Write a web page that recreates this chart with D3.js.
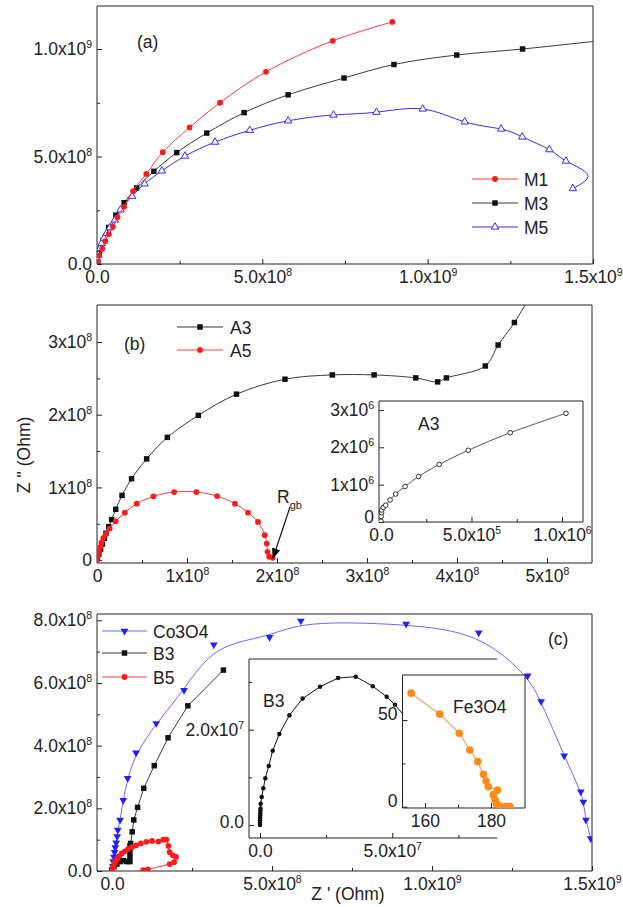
<!DOCTYPE html>
<html>
<head>
<meta charset="utf-8">
<script src="https://cdnjs.cloudflare.com/ajax/libs/d3/7.8.5/d3.min.js"></script>
<style>
  body { margin: 0; background: #fff; }
  text { font-family: "Liberation Sans", Arial, sans-serif; fill: #222; }
</style>
</head>
<body>
<svg id="chart" width="623" height="907"></svg>
<script>
const FS = 17.5;

// ---------- panel (a): values in units of 1e9 Ohm ----------
const aUnit = 1e9;
const aTicksX = [0, 0.5, 1, 1.5], aMinorX = [0.25, 0.75, 1.25];
const aTicksY = [0, 0.5, 1], aMinorY = [0.25, 0.75];
const m1 = [[0.002,0.01],[0.007,0.039],[0.016,0.071],[0.025,0.106],[0.036,0.139],[0.048,0.173],[0.062,0.217],
  [0.082,0.266],[0.109,0.339],[0.149,0.419],[0.199,0.52],[0.28,0.635],[0.372,0.75],[0.511,0.894],[0.713,1.038],[0.893,1.126]];
const m3 = [[0.002,0.01],[0.008,0.06],[0.018,0.11],[0.035,0.17],[0.057,0.227],[0.082,0.285],[0.12,0.354],[0.172,0.431],
  [0.241,0.518],[0.332,0.609],[0.445,0.704],[0.578,0.787],[0.747,0.865],[0.898,0.928],[1.088,0.972],[1.287,1.0],[1.56,1.045]];
const m5 = [[0.001,0.02],[0.004,0.042],[0.009,0.073],[0.014,0.096],[0.021,0.12],[0.029,0.143],[0.039,0.169],[0.054,0.205],
  [0.071,0.252],[0.106,0.315],[0.144,0.373],[0.196,0.433],[0.266,0.502],[0.357,0.567],[0.462,0.622],[0.578,0.666],
  [0.715,0.693],[0.845,0.706],[0.985,0.721],[1.112,0.661],[1.222,0.628],[1.286,0.591],[1.368,0.532],[1.418,0.479],[1.439,0.351]];
// where the M5 spline swings out to the right before its last point (line only, no marker)
const m5Turn = [1.484, 0.415];

// ---------- panel (b): units of 1e8 Ohm ----------
const bUnit = 1e8;
const bTicksX = [0, 1, 2, 3, 4, 5], bMinorX = [0.5, 1.5, 2.5, 3.5, 4.5];
const bTicksY = [0, 1, 2, 3], bMinorY = [0.5, 1.5, 2.5];
const a3 = [[0.005,0.02],[0.02,0.08],[0.04,0.15],[0.06,0.22],[0.08,0.3],[0.1,0.37],[0.13,0.46],[0.163,0.557],[0.208,0.699],
  [0.278,0.89],[0.384,1.119],[0.552,1.393],[0.782,1.689],[1.126,1.991],[1.55,2.283],[2.089,2.489],[2.615,2.548],
  [3.079,2.548],[3.542,2.507],[3.785,2.452],[3.882,2.507],[4.315,2.671],[4.457,2.959],[4.638,3.269],[4.85,3.71]];
const a5 = [[0,0],[0.01,0.06],[0.02,0.12],[0.035,0.18],[0.05,0.24],[0.07,0.3],[0.1,0.36],[0.141,0.434],[0.208,0.534],
  [0.309,0.653],[0.442,0.776],[0.627,0.877],[0.857,0.936],[1.104,0.936],[1.334,0.881],[1.533,0.776],[1.678,0.653],
  [1.789,0.525],[1.864,0.342],[1.886,0.228],[1.895,0.114],[1.913,0.046],[1.952,0.032]];

// inset A3: units of 1e6 Ohm
const iUnit = 1e6;
const iTicksX = [0, 0.5, 1], iMinorX = [0.25, 0.75];
const iTicksY = [0, 1, 2, 3], iMinorY = [];
const a3inset = [[0,0.02],[0.001,0.15],[0.003,0.25],[0.004,0.32],[0.013,0.39],[0.026,0.45],[0.05,0.59],[0.081,0.75],
  [0.133,0.95],[0.208,1.22],[0.322,1.54],[0.482,1.92],[0.714,2.39],[1.022,2.91]];

// ---------- panel (c): x in 1e9, y in 1e8 Ohm ----------
const cTicksX = [0, 0.5, 1, 1.5], cMinorX = [0.25, 0.75, 1.25];
const cTicksY = [0, 2, 4, 6, 8], cMinorY = [1, 3, 5, 7];
const co3o4 = [[0.001,0.03],[0.003,0.15],[0.004,0.3],[0.006,0.45],[0.008,0.6],[0.01,0.75],[0.013,0.9],[0.016,1.1],
  [0.018,1.31],[0.025,1.63],[0.035,2.26],[0.049,2.96],[0.075,3.77],[0.138,4.71],[0.225,5.77],[0.318,7.22],[0.492,7.46],
  [0.59,7.98],[0.919,7.88],[1.146,7.6],[1.299,6.23],[1.341,5.41],[1.413,3.68],[1.465,2.53],[1.473,2.2],[1.481,1.63],[1.496,1.04]];
const b3 = [[0,0.05],[0.006,0.14],[0.015,0.22],[0.025,0.3],[0.035,0.33],[0.046,0.3],[0.056,0.3],[0.056,0.46],[0.056,0.62],
  [0.056,0.8],[0.058,0.88],[0.063,1.25],[0.068,1.63],[0.08,2.03],[0.099,2.64],[0.132,3.36],[0.175,4.25],[0.237,5.27],[0.348,6.41]];
const b5 = [[0,0],[0.002,0.08],[0.005,0.16],[0.008,0.24],[0.012,0.32],[0.017,0.4],[0.023,0.48],[0.03,0.56],[0.04,0.63],
  [0.05,0.7],[0.062,0.76],[0.075,0.82],[0.09,0.88],[0.107,0.93],[0.125,0.96],[0.145,0.94],[0.16,1.0],[0.17,1.0],
  [0.176,0.8],[0.18,0.6],[0.19,0.5],[0.2,0.45],[0.194,0.28],[0.18,0.22],[0.112,0.05],[0.097,0.03]];

// inset B3: units of 1e7 Ohm
const jUnit = 1e7;
const jTicksX = [0, 5], jMinorX = [2.5, 7.5];
const jTicksY = [0, 2], jMinorY = [1, 3];
const b3inset = [[0,0],[0,0.05],[0,0.1],[0.005,0.15],[0.01,0.2],[0.01,0.25],[0.015,0.3],[0.02,0.35],[0.025,0.45],
  [0.064,0.59],[0.126,0.77],[0.2,0.98],[0.33,1.24],[0.48,1.56],[0.73,1.91],[1.11,2.3],[1.61,2.65],[2.27,2.9],
  [2.95,3.08],[3.62,3.11],[4.26,2.91],[4.79,2.69],[5.1,2.52],[5.6,2.2]];

// inset Fe3O4: plain Ohm
const kTicksX = [160, 180], kMinorX = [170];
const kTicksY = [0, 50], kMinorY = [25];
const fe3o4 = [[155.8,65.5],[164.5,53.4],[170.4,42.4],[173.6,32.7],[176.0,26.0],[177.7,18.7],[178.5,14.8],[179.2,11.5],
  [182.0,9.6],[180.7,6.8],[181.2,3.9],[181.7,1.6],[182.7,0.4],[184.5,0],[185.8,0]];

const svg = d3.select("#chart");
const defs = svg.append("defs");
defs.append("marker").attr("id", "arrow").attr("viewBox", "0 0 10 10").attr("refX", 9).attr("refY", 5)
  .attr("markerWidth", 9).attr("markerHeight", 9).attr("orient", "auto-start-reverse")
  .append("path").attr("d", "M0,1L10,5L0,9z").attr("fill", "#111");

function fmt(v, dig) {
  if (dig === null) return [String(v), ""];
  if (v === 0) return [dig ? "0.0" : "0", ""];
  const e = Math.floor(Math.log10(Math.abs(v)) + 1e-9);
  return [(v / Math.pow(10, e)).toFixed(dig) + "x10", String(e)];
}

function labelTicks(g, dig, lift, zeroLift) {
  g.attr("font-size", FS).attr("font-family", null).style("color", "#222");
  g.select(".domain").remove();
  g.selectAll(".tick text").each(function(d) {
    const t = d3.select(this).text(null);
    const [m, e] = fmt(d, dig);
    t.append("tspan").text(m);
    if (e) t.append("tspan").attr("dy", -7).attr("font-size", 10.5).text(e);
    const up = (lift || 0) + (d === 0 ? (zeroLift || 0) : 0);
    if (up) t.attr("y", -up);
  });
}

let clipId = 0;
function frame(o) {
  const g = svg.append("g");
  const [xl, xr] = o.x.range(), [yb, yt] = o.y.range();
  if (o.fill) g.append("rect").attr("x", xl).attr("y", yt).attr("width", xr - xl).attr("height", yb - yt).attr("fill", "#fff");
  const sc = v => v * o.ux, scy = v => v * o.uy;
  g.append("g").attr("transform", `translate(0,${yb})`)
    .call(d3.axisBottom(o.x).tickValues(o.xMinor.map(sc)).tickSizeInner(-3).tickSizeOuter(0).tickFormat(""))
    .call(s => s.select(".domain").remove()).style("color", "#222");
  g.append("g").attr("transform", `translate(${xl},0)`)
    .call(d3.axisLeft(o.y).tickValues(o.yMinor.map(scy)).tickSizeInner(-3).tickSizeOuter(0).tickFormat(""))
    .call(s => s.select(".domain").remove()).style("color", "#222");
  g.append("g").attr("transform", `translate(0,${yb})`)
    .call(d3.axisBottom(o.x).tickValues(o.xTicks.map(sc)).tickSizeInner(-5).tickSizeOuter(0).tickPadding(7).tickFormat(""))
    .call(s => { s.selectAll(".tick text").datum(d => d / o.ux * (o.xScale || 1)); labelTicks(s, o.xDig); });
  g.append("g").attr("transform", `translate(${xl},0)`)
    .call(d3.axisLeft(o.y).tickValues(o.yTicks.map(scy)).tickSizeInner(-5).tickSizeOuter(0).tickPadding(5).tickFormat(""))
    .call(s => { s.selectAll(".tick text").datum(d => d / o.uy * (o.yScale || 1)); labelTicks(s, o.yDig, o.yLift, o.zeroLift); });
  const line = (x1, y1, x2, y2) => g.append("line").attr("x1", x1).attr("y1", y1).attr("x2", x2).attr("y2", y2)
    .attr("stroke", "#222").attr("stroke-width", 1);
  line(xl, yb, xr, yb); line(xl, yb, xl, yt); line(xl, yt, xr, yt);
  if (!o.noRight) line(xr, yt, xr, yb);
  const id = "clip" + (clipId++);
  defs.append("clipPath").attr("id", id).append("rect").attr("x", xl).attr("y", yt).attr("width", xr - xl).attr("height", yb - yt);
  return svg.append("g").attr("clip-path", `url(#${id})`);
}

function series(g, data, x, y, ux, uy, o, lineData) {
  const P = ([a, b]) => [x(a * ux), y(b * uy)];
  const pts = data.map(P);
  g.append("path").attr("d", d3.line().curve(o.curve || d3.curveLinear)((lineData || data).map(P)))
    .attr("fill", "none").attr("stroke", o.line).attr("stroke-width", o.lw || 1);
  const sym = d3.symbol().type(o.type).size(o.size);
  g.selectAll(null).data(pts).join("path")
    .attr("d", sym)
    .attr("transform", d => `translate(${d[0]},${d[1]})${o.down ? " rotate(180)" : ""}`)
    .attr("fill", o.fill).attr("stroke", o.stroke || "none").attr("stroke-width", 1);
}

function legend(items, x1, x2, tx) {
  items.forEach(it => {
    svg.append("line").attr("x1", x1).attr("x2", x2).attr("y1", it.y).attr("y2", it.y)
      .attr("stroke", it.o.line).attr("stroke-width", 1);
    svg.append("path").attr("d", d3.symbol().type(it.o.type).size(it.o.size))
      .attr("transform", `translate(${(x1 + x2) / 2},${it.y})${it.o.down ? " rotate(180)" : ""}`)
      .attr("fill", it.o.fill).attr("stroke", it.o.stroke || "none");
    svg.append("text").attr("x", tx).attr("y", it.y + 6.5).attr("font-size", FS).text(it.label);
  });
}

function label(x, y, s, size) {
  return svg.append("text").attr("x", x).attr("y", y).attr("font-size", size || FS).text(s);
}

const RED = { line: "#ff3a3a", type: d3.symbolCircle, size: 26, fill: "#ff1a1a" };
const BLACK = { line: "#3a3a3a", type: d3.symbolSquare, size: 30, fill: "#111" };
const BLUE_OPEN = { line: "#2f2fff", type: d3.symbolTriangle, size: 24, fill: "#fff", stroke: "#3030ff" };
const BLUE_DOWN = { line: "#6a6aff", type: d3.symbolTriangle, size: 26, fill: "#2020ff", down: true };

// ---------- panel (a) ----------
const xa = d3.scaleLinear([0, 1.5e9], [97, 593]);
const ya = d3.scaleLinear([0, 1.2e9], [264, 6]);
const ga = frame({ x: xa, y: ya, ux: aUnit, uy: aUnit, xTicks: aTicksX, xMinor: aMinorX, yTicks: aTicksY, yMinor: aMinorY,
  xScale: aUnit, yScale: aUnit, xDig: 1, yDig: 1 });
series(ga, m3, xa, ya, aUnit, aUnit, { ...BLACK, curve: d3.curveCatmullRom });
series(ga, m5, xa, ya, aUnit, aUnit, { ...BLUE_OPEN, curve: d3.curveNatural }, [...m5.slice(0, -1), m5Turn, m5[m5.length - 1]]);
series(ga, m1, xa, ya, aUnit, aUnit, { ...RED, curve: d3.curveCatmullRom });
label(137, 48, "(a)");
legend([{ y: 179, label: "M1", o: RED }, { y: 203, label: "M3", o: BLACK }, { y: 227, label: "M5", o: BLUE_OPEN }], 472, 518, 524);

// ---------- panel (b) ----------
const xb = d3.scaleLinear([0, 5.5e8], [97, 592]);
const yb = d3.scaleLinear([-0.04e8, 3.51e8], [563, 305]);
const gb = frame({ x: xb, y: yb, ux: bUnit, uy: bUnit, xTicks: bTicksX, xMinor: bMinorX, yTicks: bTicksY, yMinor: bMinorY,
  xScale: bUnit, yScale: bUnit, xDig: 0, yDig: 0 });
series(gb, a3, xb, yb, bUnit, bUnit, { ...BLACK, curve: d3.curveCatmullRom });
series(gb, a5, xb, yb, bUnit, bUnit, { ...RED, curve: d3.curveCatmullRom });
label(124, 350, "(b)");
legend([{ y: 327, label: "A3", o: BLACK }, { y: 350, label: "A5", o: RED }], 177, 223, 230);
const rgb = label(277, 503, "R");
rgb.append("tspan").attr("font-size", 11).attr("dy", 6).text("gb");
svg.append("line").attr("x1", 290).attr("y1", 507).attr("x2", 273).attr("y2", 558)
  .attr("stroke", "#111").attr("stroke-width", 1.2).attr("marker-end", "url(#arrow)");

// inset A3
const xi = d3.scaleLinear([-0.011e6, 1.116e6], [379, 583]);
const yi = d3.scaleLinear([0, 3.24e6], [522, 401]);
const gi = frame({ x: xi, y: yi, ux: iUnit, uy: iUnit, xTicks: iTicksX, xMinor: iMinorX, yTicks: iTicksY, yMinor: iMinorY,
  xScale: iUnit, yScale: iUnit, xDig: 1, yDig: 0, fill: true, zeroLift: 5 });
series(gi, a3inset, xi, yi, iUnit, iUnit, { line: "#555", type: d3.symbolCircle, size: 17, fill: "#fff", stroke: "#333", curve: d3.curveCatmullRom });
label(418, 430, "A3");

// ---------- panel (c) ----------
const xc = d3.scaleLinear([-0.047e9, 1.5e9], [97, 592]);
const yc = d3.scaleLinear([0, 8.2e8], [871, 614]);
const gc = frame({ x: xc, y: yc, ux: 1e9, uy: 1e8, xTicks: cTicksX, xMinor: cMinorX, yTicks: cTicksY, yMinor: cMinorY,
  xScale: 1e9, yScale: 1e8, xDig: 1, yDig: 1 });
series(gc, co3o4, xc, yc, 1e9, 1e8, { ...BLUE_DOWN, curve: d3.curveBasis });
series(gc, b3, xc, yc, 1e9, 1e8, BLACK);
series(gc, b5, xc, yc, 1e9, 1e8, RED);
label(548, 645, "(c)");
legend([{ y: 631, label: "Co3O4", o: BLUE_DOWN }, { y: 653, label: "B3", o: BLACK }, { y: 677, label: "B5", o: RED }], 102, 147, 153);

// inset B3
const xj = d3.scaleLinear([-0.416e7, 8.96e7], [249, 497]);
const yj = d3.scaleLinear([-0.27e7, 3.48e7], [838, 659]);
const gj = frame({ x: xj, y: yj, ux: jUnit, uy: jUnit, xTicks: jTicksX, xMinor: jMinorX, yTicks: jTicksY, yMinor: jMinorY,
  xScale: jUnit, yScale: jUnit, xDig: 1, yDig: 1, fill: true, noRight: true, zeroLift: 3 });
series(gj, b3inset, xj, yj, jUnit, jUnit, { line: "#111", type: d3.symbolCircle, size: 16, fill: "#111" });
label(263, 707, "B3");

// inset Fe3O4
const xk = d3.scaleLinear([153.2, 190.3], [402.5, 525]);
const yk = d3.scaleLinear([-0.75, 76], [808, 675]);
const gk = frame({ x: xk, y: yk, ux: 1, uy: 1, xTicks: kTicksX, xMinor: kMinorX, yTicks: kTicksY, yMinor: kMinorY,
  xDig: null, yDig: null, fill: true, yLift: 6 });
series(gk, fe3o4, xk, yk, 1, 1, { line: "#f5a560", lw: 1.2, type: d3.symbolCircle, size: 46, fill: "#ff8a1c" });
label(453, 713, "Fe3O4");

// axis titles
svg.append("text").attr("transform", "translate(30,455) rotate(-90)").attr("text-anchor", "middle")
  .attr("font-size", FS).text("Z '' (Ohm)");
svg.append("text").attr("x", 348).attr("y", 900).attr("text-anchor", "middle").attr("font-size", FS).text("Z ' (Ohm)");
</script>
</body>
</html>
